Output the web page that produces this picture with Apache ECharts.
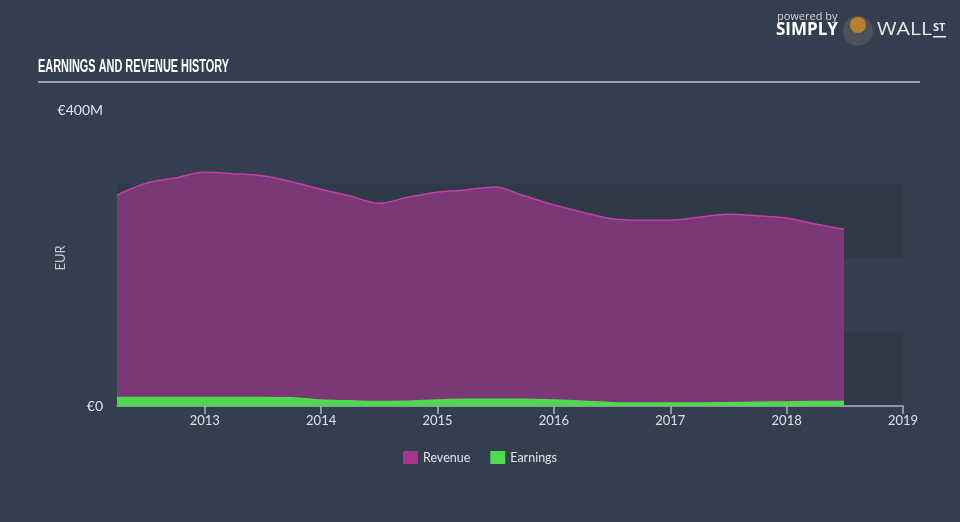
<!DOCTYPE html>
<html>
<head>
<meta charset="utf-8">
<script src="https://cdn.jsdelivr.net/npm/echarts@6/dist/echarts.min.js"></script>
<style>
html,body{margin:0;padding:0;background:#333f4f;}
#chart{width:960px;height:522px;}
</style>
</head>
<body>
<div id="chart"></div>
<script>
// Quarter-end dates
const dates = ['2012-03-31','2012-06-30','2012-09-30','2012-12-31',
  '2013-03-31','2013-06-30','2013-09-30','2013-12-31',
  '2014-03-31','2014-06-30','2014-09-30','2014-12-31',
  '2015-03-31','2015-06-30','2015-09-30','2015-12-31',
  '2016-03-31','2016-06-30','2016-09-30','2016-12-31',
  '2017-03-31','2017-06-30','2017-09-30','2017-12-31',
  '2018-03-31','2018-06-30'];
// values in millions EUR
const revenue = [285,301,308,316,314,311,303,293,284,274,282,289,292,296,284,272,262,253,251,251,255,259,257,254,246,239];
const earnings = [11.5,11.5,11.5,11.5,11.5,11.5,11,8,7,6,6.5,8,9,9,9,8,6.5,4.5,4,4,4,4.5,5,5.5,6,6];
const yearTicks = [2013,2014,2015,2016,2017,2018,2019];
const yTickLabels = {0:'€0', 400:'€400M'};

function decYear(s){
  const [y,m,d] = s.split('-').map(Number);
  const start = Date.UTC(y,0,1), end = Date.UTC(y+1,0,1);
  return y + (Date.UTC(y,m-1,d) - start)/(end-start);
}
const xs = dates.map(decYear);
const revData = xs.map((x,i)=>[x, revenue[i]]);
const earnData = xs.map((x,i)=>[x, earnings[i]]);

// fit title width to the reference's condensed look
const titleText = 'EARNINGS AND REVENUE HISTORY';
const titleFont = 'bold 19px "Liberation Sans"';
const ctx = document.createElement('canvas').getContext('2d');
ctx.font = titleFont;
const titleScale = 191 / ctx.measureText(titleText).width;
ctx.font = '18px "Open Sans"';
const wallScale = 55 / ctx.measureText('WALL').width;

const chart = echarts.init(document.getElementById('chart'));
chart.setOption({
  backgroundColor:'#333f4f',
  animation:false,
  legend:{
    data:['Revenue','Earnings'],
    top:446, left:'center',
    icon:'rect', itemWidth:15, itemHeight:13, itemGap:20,
    textStyle:{color:'#e2e4e8', fontSize:12.5, fontFamily:'Lato'}
  },
  grid:{left:117, right:57, top:110, bottom:116},
  xAxis:{
    type:'value', min:xs[0], max:2019,
    axisLine:{show:true, lineStyle:{color:'#aab2bc', width:1.5}},
    axisTick:{show:true, customValues:yearTicks, length:8, lineStyle:{color:'#aab2bc', width:1.5}},
    axisLabel:{customValues:yearTicks, color:'#dde0e4', fontSize:13, fontFamily:'Lato', margin:8, formatter:v=>String(Math.round(v))},
    splitLine:{show:false}
  },
  yAxis:{
    type:'value', min:0, max:400, interval:100,
    name:'EUR', nameLocation:'middle', nameRotate:90, nameGap:50, nameMoveOverlap:false,
    nameTextStyle:{color:'#c8ccd2', fontSize:13, fontFamily:'Lato'},
    axisLine:{show:false}, axisTick:{show:false},
    axisLabel:{color:'#e2e4e8', fontSize:14, fontFamily:'Lato', margin:14,
      formatter:v=> yTickLabels[v] !== undefined ? yTickLabels[v] : ''},
    splitLine:{show:false},
    splitArea:{show:true, areaStyle:{color:['rgba(20,30,40,0.13)','rgba(0,0,0,0)']}}
  },
  series:[
    {name:'Revenue', type:'line', data:revData, smooth:0.35, symbol:'none',
     itemStyle:{color:'#a8368f'},
     lineStyle:{color:'#c23fa8', width:1.5},
     areaStyle:{color:'#7b3876', opacity:1}, z:2},
    {name:'Earnings', type:'line', data:earnData, smooth:0.35, symbol:'none',
     itemStyle:{color:'#4fdb4f'},
     lineStyle:{color:'#4fdb4f', width:1.5},
     areaStyle:{color:'#4fd84f', opacity:1}, z:3}
  ],
  graphic:[
    {type:'text', x:38, y:57, scaleX:titleScale, style:{text:titleText, fill:'#ffffff',
      fontFamily:'Liberation Sans', fontWeight:'bold', fontSize:19}},
    {type:'rect', shape:{x:38, y:81, width:882, height:2}, style:{fill:'#9aa3ad'}},
    {type:'text', left:777, top:11, style:{text:'powered by', fill:'#d0d4d8', fontFamily:'Open Sans', fontSize:11}},
    {type:'text', left:776, top:22, style:{text:'SIMPLY', fill:'#ffffff', fontFamily:'Open Sans', fontWeight:'bold', fontSize:17}},
    {type:'circle', shape:{cx:858, cy:31, r:15}, style:{fill:'#4d5258'}},
    {type:'circle', shape:{cx:858, cy:25, r:8}, style:{fill:'#b8802e'}},
    {type:'text', x:877, y:21, scaleX:wallScale, style:{text:'WALL', fill:'#e8eaec', fontFamily:'Open Sans', fontSize:18}},
    {type:'text', left:933, top:22, style:{text:'ST', fill:'#e8eaec', fontFamily:'Open Sans', fontWeight:'bold', fontSize:11}},
    {type:'rect', shape:{x:933, y:36, width:13, height:1.5}, style:{fill:'#e8eaec'}}
  ]
});
</script>
</body>
</html>
